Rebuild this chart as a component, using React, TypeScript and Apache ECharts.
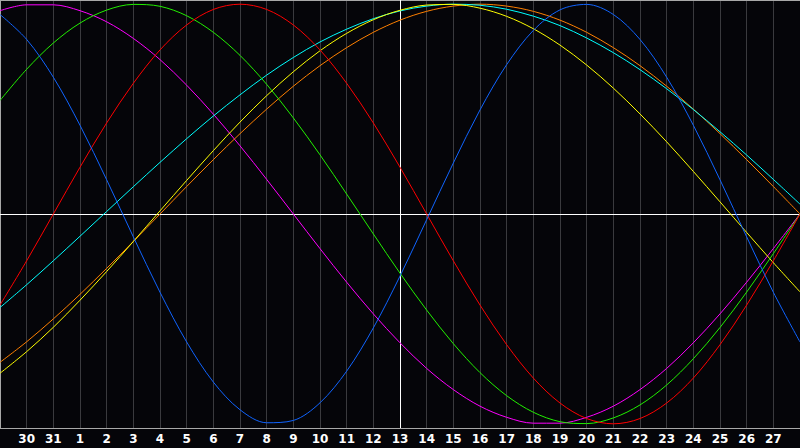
import { useEffect, useRef } from "react";
import * as echarts from "echarts";

// day labels: index 0 is the 29th of the previous month, index 30 the 28th
const days = [
  "29", "30", "31", "1", "2", "3", "4", "5", "6", "7", "8", "9", "10", "11", "12",
  "13", "14", "15", "16", "17", "18", "19", "20", "21", "22", "23", "24", "25", "26", "27", "28",
];

const blue = [
  0.951, 0.832, 0.652, 0.423, 0.163, -0.109, -0.373, -0.61, -0.801, -0.933, -0.995,
  -0.984, -0.9, -0.749, -0.543, -0.296, -0.027, 0.243, 0.496, 0.712, 0.875,
  0.973, 0.999, 0.951, 0.832, 0.652, 0.423, 0.163, -0.109, -0.373, -0.61,
];
const red = [
  -0.434, -0.223, 0, 0.223, 0.434, 0.623, 0.782, 0.901, 0.975, 1, 0.975,
  0.901, 0.782, 0.623, 0.434, 0.223, 0, -0.223, -0.434, -0.623, -0.782,
  -0.901, -0.975, -1, -0.975, -0.901, -0.782, -0.623, -0.434, -0.223, 0,
];
const green = [
  0.541, 0.69, 0.815, 0.91, 0.972, 0.999, 0.99, 0.945, 0.866, 0.756, 0.618,
  0.458, 0.282, 0.095, -0.095, -0.282, -0.458, -0.618, -0.756, -0.866, -0.945,
  -0.99, -0.999, -0.972, -0.91, -0.815, -0.69, -0.541, -0.372, -0.189, 0,
];
const magenta = [
  0.969, 0.997, 0.997, 0.969, 0.916, 0.837, 0.736, 0.614, 0.476, 0.325, 0.165,
  0, -0.165, -0.325, -0.476, -0.614, -0.736, -0.837, -0.916, -0.969, -0.997,
  -0.997, -0.969, -0.916, -0.837, -0.736, -0.614, -0.476, -0.325, -0.165, 0,
];
const cyan = [
  -0.446, -0.337, -0.223, -0.106, 0.012, 0.13, 0.246, 0.359, 0.467, 0.568, 0.662,
  0.746, 0.82, 0.881, 0.931, 0.968, 0.991, 1, 0.995, 0.976, 0.943,
  0.898, 0.839, 0.769, 0.688, 0.597, 0.498, 0.392, 0.281, 0.165, 0.047,
];
const yellow = [
  -0.759, -0.656, -0.54, -0.411, -0.274, -0.131, 0.015, 0.16, 0.302, 0.438, 0.564,
  0.678, 0.778, 0.861, 0.926, 0.971, 0.996, 0.999, 0.981, 0.942, 0.883,
  0.805, 0.71, 0.6, 0.477, 0.344, 0.203, 0.058, -0.088, -0.232, -0.371,
];
const orange = [
  -0.707, -0.609, -0.5, -0.383, -0.259, -0.131, 0, 0.131, 0.259, 0.383, 0.5,
  0.609, 0.707, 0.793, 0.866, 0.924, 0.966, 0.991, 1, 0.991, 0.966,
  0.924, 0.866, 0.793, 0.707, 0.609, 0.5, 0.383, 0.259, 0.131, 0,
];

const today = "13";

const curves: [string, number[]][] = [
  ["#ff00ff", magenta],
  ["#ff8000", orange],
  ["#00ffff", cyan],
  ["#ffff00", yellow],
  ["#22f000", green],
  ["#ff0000", red],
  ["#1064ff", blue],
];

export default function App() {
  const chartRef = useRef<HTMLDivElement>(null);

  useEffect(() => {
    document.body.style.margin = "0";
    document.body.style.background = "#050509";
    if (!chartRef.current) return;
    const chart = echarts.init(chartRef.current, null, { renderer: "svg" });

    chart.setOption({
      animation: false,
      backgroundColor: "#050509",
      grid: { left: 0, right: 0, top: 0, bottom: 20 },
      xAxis: [
        {
          type: "category",
          data: days,
          boundaryGap: false,
          axisLine: { onZero: false, lineStyle: { color: "#a8a8a8", width: 1 } },
          axisTick: { show: false },
          axisLabel: {
            interval: (index: number) => index > 0 && index < days.length - 1,
            color: "#ffffff",
            fontFamily: "DejaVu Sans",
            fontWeight: "bold",
            fontSize: 12,
            margin: 5,
          },
          splitLine: {
            show: true,
            interval: 0,
            lineStyle: { color: "#3a3a3e", width: 1 },
          },
        },
        {
          type: "category",
          data: days,
          boundaryGap: false,
          position: "top",
          axisLine: { onZero: false, lineStyle: { color: "#a8a8a8", width: 1 } },
          axisTick: { show: false },
          axisLabel: { show: false },
          splitLine: { show: false },
        },
      ],
      yAxis: {
        type: "value",
        min: -1.02,
        max: 1.02,
        axisLine: { show: true, onZero: false, lineStyle: { color: "#a8a8a8", width: 1 } },
        axisTick: { show: false },
        axisLabel: { show: false },
        splitLine: { show: false },
      },
      series: curves.map(([color, values], i) => ({
        type: "line",
        data: values,
        // catmull-rom style tension keeps the sine peaks round
        smooth: 0.33,
        symbol: "none",
        lineStyle: { color, width: 1 },
        z: 3,
        markLine:
          i === 0
            ? {
                silent: true,
                symbol: "none",
                label: { show: false },
                lineStyle: { color: "#ffffff", width: 1, type: "solid" },
                data: [{ yAxis: 0 }, { xAxis: today }],
                z: 2,
              }
            : undefined,
      })),
    });

    return () => chart.dispose();
  }, []);

  return <div ref={chartRef} style={{ width: 800, height: 448 }} />;
}
